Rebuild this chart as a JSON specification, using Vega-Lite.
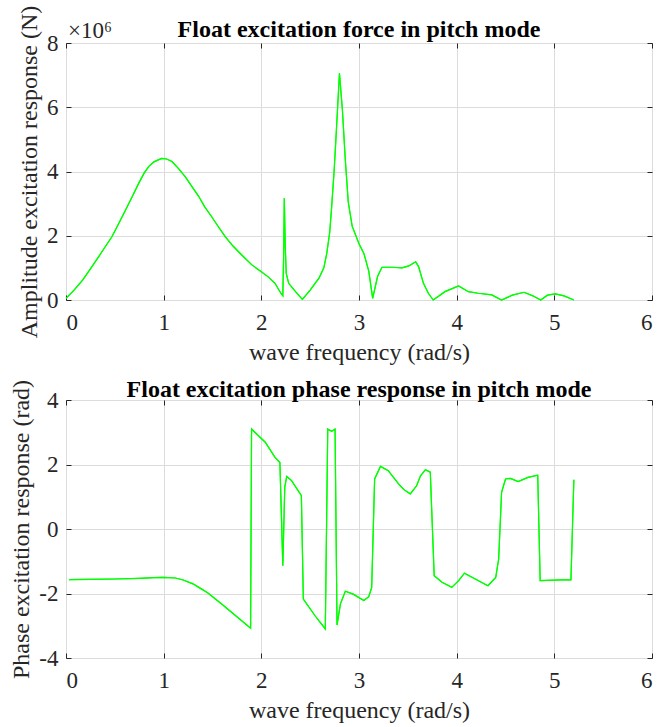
{
  "$schema": "https://vega.github.io/schema/vega-lite/v6.json",
  "autosize": {"type": "pad"},
  "padding": {"left": 9, "top": 4, "right": 0, "bottom": 10},
  "background": "white",
  "spacing": 100,
  "bounds": "flush",
  "config": {
    "font": "Liberation Serif",
    "view": {"stroke": "#262626", "strokeWidth": 1},
    "axis": {
      "labelFont": "Liberation Serif",
      "titleFont": "Liberation Serif",
      "labelFontSize": 23,
      "titleFontSize": 24,
      "titleFontWeight": "normal",
      "labelColor": "#262626",
      "titleColor": "#262626",
      "domain": false,
      "tickColor": "#262626",
      "tickSize": -5,
      "gridColor": "#dcdcdc",
      "gridWidth": 1
    },
    "title": {"font": "Liberation Serif", "fontSize": 24, "fontWeight": "bold", "color": "black"}
  },
  "datasets": {
    "amp": [
      {"w": 0.0, "F": 50000},
      {"w": 0.08, "F": 300000},
      {"w": 0.17, "F": 620000},
      {"w": 0.25, "F": 970000},
      {"w": 0.335, "F": 1350000},
      {"w": 0.4, "F": 1650000},
      {"w": 0.47, "F": 1970000},
      {"w": 0.54, "F": 2380000},
      {"w": 0.61, "F": 2800000},
      {"w": 0.68, "F": 3230000},
      {"w": 0.744, "F": 3630000},
      {"w": 0.8, "F": 3950000},
      {"w": 0.846, "F": 4150000},
      {"w": 0.9, "F": 4300000},
      {"w": 0.98, "F": 4410000},
      {"w": 1.03, "F": 4390000},
      {"w": 1.085, "F": 4310000},
      {"w": 1.15, "F": 4100000},
      {"w": 1.22, "F": 3840000},
      {"w": 1.29, "F": 3530000},
      {"w": 1.36, "F": 3220000},
      {"w": 1.42, "F": 2900000},
      {"w": 1.49, "F": 2600000},
      {"w": 1.56, "F": 2280000},
      {"w": 1.63, "F": 1970000},
      {"w": 1.71, "F": 1680000},
      {"w": 1.8, "F": 1400000},
      {"w": 1.9, "F": 1100000},
      {"w": 2.0, "F": 880000},
      {"w": 2.07, "F": 720000},
      {"w": 2.14, "F": 520000},
      {"w": 2.2, "F": 210000},
      {"w": 2.22, "F": 130000},
      {"w": 2.23, "F": 1660000},
      {"w": 2.235, "F": 3170000},
      {"w": 2.245, "F": 1660000},
      {"w": 2.255, "F": 830000},
      {"w": 2.28, "F": 520000},
      {"w": 2.35, "F": 260000},
      {"w": 2.42, "F": 20000},
      {"w": 2.5, "F": 310000},
      {"w": 2.59, "F": 680000},
      {"w": 2.64, "F": 1000000},
      {"w": 2.67, "F": 1450000},
      {"w": 2.7, "F": 2100000},
      {"w": 2.72, "F": 2900000},
      {"w": 2.745, "F": 4000000},
      {"w": 2.765, "F": 5090000},
      {"w": 2.8, "F": 7060000},
      {"w": 2.83, "F": 5920000},
      {"w": 2.86, "F": 4360000},
      {"w": 2.89, "F": 3050000},
      {"w": 2.93, "F": 2300000},
      {"w": 3.0, "F": 1750000},
      {"w": 3.05, "F": 1450000},
      {"w": 3.1, "F": 900000},
      {"w": 3.14, "F": 50000},
      {"w": 3.19, "F": 730000},
      {"w": 3.235, "F": 1020000},
      {"w": 3.34, "F": 1020000},
      {"w": 3.44, "F": 1000000},
      {"w": 3.51, "F": 1060000},
      {"w": 3.58, "F": 1190000},
      {"w": 3.61, "F": 1040000},
      {"w": 3.66, "F": 520000},
      {"w": 3.71, "F": 210000},
      {"w": 3.76, "F": 0},
      {"w": 3.88, "F": 260000},
      {"w": 4.02, "F": 440000},
      {"w": 4.12, "F": 260000},
      {"w": 4.22, "F": 210000},
      {"w": 4.36, "F": 160000},
      {"w": 4.46, "F": 0},
      {"w": 4.57, "F": 150000},
      {"w": 4.69, "F": 240000},
      {"w": 4.78, "F": 130000},
      {"w": 4.86, "F": 0},
      {"w": 4.93, "F": 150000},
      {"w": 5.01, "F": 190000},
      {"w": 5.1, "F": 130000},
      {"w": 5.2, "F": 0}
    ],
    "phase": [
      {"w": 0.03, "p": -1.57},
      {"w": 0.25, "p": -1.565},
      {"w": 0.5, "p": -1.55},
      {"w": 0.75, "p": -1.53},
      {"w": 0.9, "p": -1.51},
      {"w": 1.0, "p": -1.5},
      {"w": 1.12, "p": -1.52},
      {"w": 1.2, "p": -1.58},
      {"w": 1.3, "p": -1.7},
      {"w": 1.36, "p": -1.81},
      {"w": 1.45, "p": -1.98},
      {"w": 1.53, "p": -2.17},
      {"w": 1.6, "p": -2.34},
      {"w": 1.67, "p": -2.52},
      {"w": 1.75, "p": -2.72},
      {"w": 1.89, "p": -3.08},
      {"w": 1.9, "p": 3.1},
      {"w": 2.04, "p": 2.69},
      {"w": 2.14, "p": 2.22},
      {"w": 2.19, "p": 2.06},
      {"w": 2.22, "p": -1.14},
      {"w": 2.24, "p": 1.3},
      {"w": 2.26, "p": 1.63},
      {"w": 2.31, "p": 1.5},
      {"w": 2.41, "p": 1.03},
      {"w": 2.43, "p": -2.17},
      {"w": 2.55, "p": -2.69},
      {"w": 2.655, "p": -3.1},
      {"w": 2.68, "p": 3.1},
      {"w": 2.72, "p": 3.03},
      {"w": 2.755, "p": 3.1},
      {"w": 2.775, "p": -2.98},
      {"w": 2.81, "p": -2.32},
      {"w": 2.86, "p": -1.93},
      {"w": 2.94, "p": -2.02},
      {"w": 3.05, "p": -2.22},
      {"w": 3.1, "p": -2.1},
      {"w": 3.13, "p": -1.81},
      {"w": 3.16, "p": 1.55},
      {"w": 3.22, "p": 1.94},
      {"w": 3.3, "p": 1.81},
      {"w": 3.405, "p": 1.4},
      {"w": 3.46, "p": 1.22},
      {"w": 3.525, "p": 1.09},
      {"w": 3.59, "p": 1.34},
      {"w": 3.63, "p": 1.65},
      {"w": 3.68, "p": 1.84},
      {"w": 3.73, "p": 1.76},
      {"w": 3.77, "p": -1.45},
      {"w": 3.85, "p": -1.65},
      {"w": 3.95, "p": -1.81},
      {"w": 4.02, "p": -1.6},
      {"w": 4.08, "p": -1.37},
      {"w": 4.19, "p": -1.55},
      {"w": 4.32, "p": -1.76},
      {"w": 4.4, "p": -1.5},
      {"w": 4.43, "p": -0.93},
      {"w": 4.46, "p": 1.14},
      {"w": 4.5, "p": 1.55},
      {"w": 4.55, "p": 1.57},
      {"w": 4.63, "p": 1.47},
      {"w": 4.73, "p": 1.6},
      {"w": 4.83, "p": 1.67},
      {"w": 4.855, "p": -1.6},
      {"w": 5.08, "p": -1.58},
      {"w": 5.17, "p": -1.58},
      {"w": 5.2, "p": 1.53}
    ]
  },
  "vconcat": [
    {
      "width": 586,
      "height": 257,
      "title": {"text": "Float excitation force in pitch mode", "offset": -37},
      "data": {"name": "amp"},
      "layer": [
        {
          "mark": {"type": "line", "color": "#00ff00", "strokeWidth": 1.2},
          "encoding": {
            "x": {"field": "w", "type": "quantitative", "scale": {"domain": [0, 6], "nice": false},
              "axis": {"title": "wave frequency (rad/s)", "values": [0, 1, 2, 3, 4, 5, 6], "labelPadding": 16, "titlePadding": 6}},
            "y": {"field": "F", "type": "quantitative", "scale": {"domain": [0, 8000000], "nice": false},
              "axis": {"title": "Amplitude excitation response (N)", "values": [0, 2000000, 4000000, 6000000, 8000000],
                "labelExpr": "'' + datum.value / 1000000", "labelPadding": 13, "titlePadding": 5}}
          }
        },
        {
          "mark": {"type": "line", "color": "#00ff00", "strokeWidth": 1.2},
          "encoding": {
            "x": {"field": "w", "type": "quantitative",
              "axis": {"orient": "top", "title": null, "labels": false, "grid": false, "values": [0, 1, 2, 3, 4, 5, 6]}},
            "y": {"field": "F", "type": "quantitative",
              "axis": {"orient": "right", "title": null, "labels": false, "grid": false, "values": [0, 2000000, 4000000, 6000000, 8000000]}}
          }
        },
        {
          "data": {"values": [{"w": 0, "F": 8000000, "label": "×10⁶"}]},
          "mark": {"type": "text", "align": "left", "baseline": "alphabetic", "dx": 2, "dy": -5, "fontSize": 23, "font": "Liberation Serif", "color": "#262626"},
          "encoding": {
            "x": {"field": "w", "type": "quantitative", "axis": null},
            "y": {"field": "F", "type": "quantitative", "axis": null},
            "text": {"field": "label"}
          }
        }
      ],
      "resolve": {"axis": {"x": "independent", "y": "independent"}}
    },
    {
      "width": 586,
      "height": 258,
      "title": {"text": "Float excitation phase response in pitch mode", "offset": -23},
      "data": {"name": "phase"},
      "layer": [
        {
          "mark": {"type": "line", "color": "#00ff00", "strokeWidth": 1.2},
          "encoding": {
            "x": {"field": "w", "type": "quantitative", "scale": {"domain": [0, 6], "nice": false},
              "axis": {"title": "wave frequency (rad/s)", "values": [0, 1, 2, 3, 4, 5, 6], "labelPadding": 16, "titlePadding": 6}},
            "y": {"field": "p", "type": "quantitative", "scale": {"domain": [-4, 4], "nice": false},
              "axis": {"title": "Phase excitation response (rad)", "values": [-4, -2, 0, 2, 4],
                "labelExpr": "datum.value < 0 ? '-' + abs(datum.value) : '' + datum.value", "labelPadding": 13, "titlePadding": 5}}
          }
        },
        {
          "mark": {"type": "line", "color": "#00ff00", "strokeWidth": 1.2},
          "encoding": {
            "x": {"field": "w", "type": "quantitative",
              "axis": {"orient": "top", "title": null, "labels": false, "grid": false, "values": [0, 1, 2, 3, 4, 5, 6]}},
            "y": {"field": "p", "type": "quantitative",
              "axis": {"orient": "right", "title": null, "labels": false, "grid": false, "values": [-4, -2, 0, 2, 4]}}
          }
        }
      ],
      "resolve": {"axis": {"x": "independent", "y": "independent"}}
    }
  ]
}
